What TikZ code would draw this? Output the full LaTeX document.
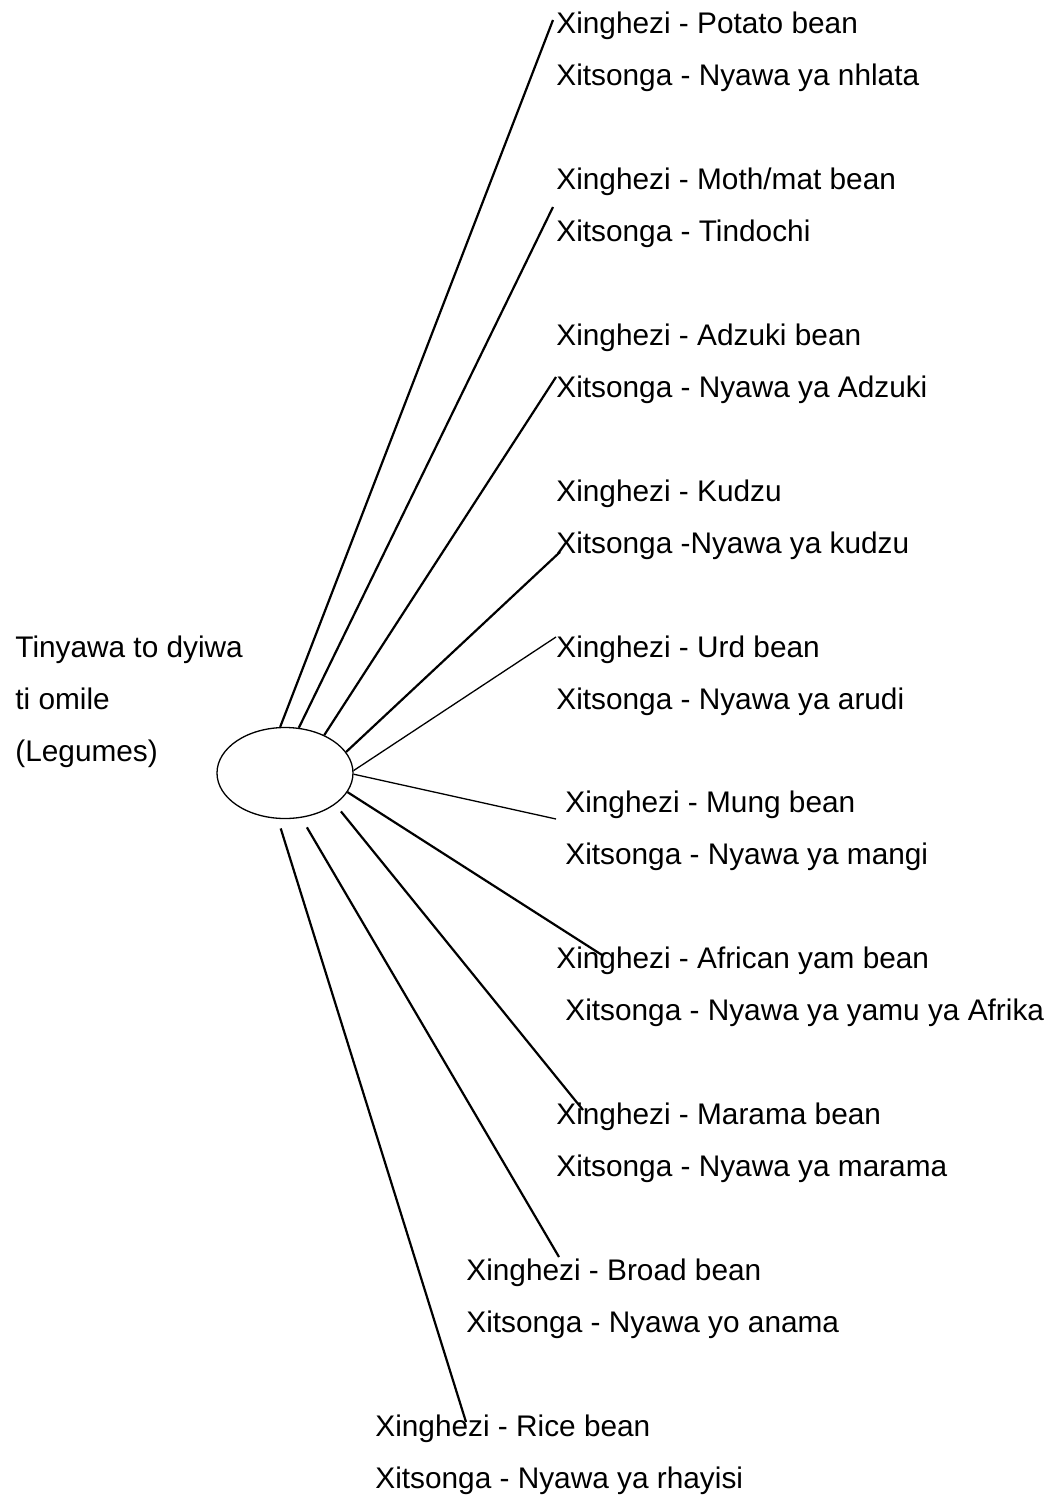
\documentclass[tikz,border=0pt]{standalone}
\usepackage{fontspec}
\setmainfont{Liberation Sans}
\usetikzlibrary{shapes.geometric}

\begin{document}
\begin{tikzpicture}[x=0.5bp,y=-0.5bp]
  \tikzstyle{hub}=[draw,ellipse,line width=0.65bp,minimum width=68bp,minimum height=45.5bp,inner sep=0pt]
  \tikzstyle{legname}=[anchor=base west,inner sep=0pt,font=\fontsize{14.9bp}{17bp}\selectfont]
  \tikzstyle{spoke}=[line width=1.1bp]
  \tikzstyle{thin spoke}=[line width=0.65bp]

  \useasboundingbox (0,0) rectangle (1053,1495);

  \node[hub] (leg) at (285,773) {};
  \node[legname] (top1) at (15,657) {Tinyawa to dyiwa};
  \node[legname] (top2) at (15,709) {ti omile};
  \node[legname] (top3) at (15,761) {(Legumes)};

  % english / xitsonga pairs
  \node[legname] (en1)  at (556,33)   {Xinghezi - Potato bean};
  \node[legname] (ts1)  at (556,85)   {Xitsonga - Nyawa ya nhlata};
  \node[legname] (en2)  at (556,189)  {Xinghezi - Moth/mat bean};
  \node[legname] (ts2)  at (556,241)  {Xitsonga - Tindochi};
  \node[legname] (en3)  at (556,345)  {Xinghezi - Adzuki bean};
  \node[legname] (ts3)  at (556,397)  {Xitsonga - Nyawa ya Adzuki};
  \node[legname] (en4)  at (556,501)  {Xinghezi - Kudzu};
  \node[legname] (ts4)  at (556,553)  {Xitsonga -Nyawa ya kudzu};
  \node[legname] (en5)  at (556,657)  {Xinghezi - Urd bean};
  \node[legname] (ts5)  at (556,709)  {Xitsonga - Nyawa ya arudi};
  \node[legname] (en6)  at (565,812)  {Xinghezi - Mung bean};
  \node[legname] (ts6)  at (565,864)  {Xitsonga - Nyawa ya mangi};
  \node[legname] (en7)  at (556,968)  {Xinghezi - African yam bean};
  \node[legname] (ts7)  at (565,1020) {Xitsonga - Nyawa ya yamu ya Afrika};
  \node[legname] (en8)  at (556,1124) {Xinghezi - Marama bean};
  \node[legname] (ts8)  at (556,1176) {Xitsonga - Nyawa ya marama};
  \node[legname] (en9)  at (466,1280) {Xinghezi - Broad bean};
  \node[legname] (ts9)  at (466,1332) {Xitsonga - Nyawa yo anama};
  \node[legname] (en10) at (375,1436) {Xinghezi - Rice bean};
  \node[legname] (ts10) at (375,1488) {Xitsonga - Nyawa ya rhayisi};

  % loose ends of the spokes
  \coordinate (e1)  at (553,20);
  \coordinate (e2)  at (553,207);
  \coordinate (e3)  at (556,377);
  \coordinate (e4)  at (560,552);
  \coordinate (e5)  at (556,637);
  \coordinate (e6)  at (556,819);
  \coordinate (e7)  at (602,955);
  \coordinate (e8)  at (583,1110);
  \coordinate (e9)  at (559,1257);
  \coordinate (e10) at (466,1422);

  \draw[spoke] (leg.96) -- (e1);
  \draw[spoke] (leg.73) -- (e2);
  \draw[spoke] (leg.44) -- (e3);
  \draw[spoke] (leg.19) -- (e4);
  \draw[thin spoke] (leg.2) -- (e5);
  \draw[thin spoke] (leg.-1) -- (e6);
  \draw[spoke] (leg.-17) -- (e7);
  \draw[spoke,shorten <=4.5bp] (leg.-32) -- (e8);
  \draw[spoke,shorten <=5.5bp] (leg.-70) -- (e9);
  \draw[spoke,shorten <=5bp] (leg.-99) -- (e10);
\end{tikzpicture}
\end{document}
